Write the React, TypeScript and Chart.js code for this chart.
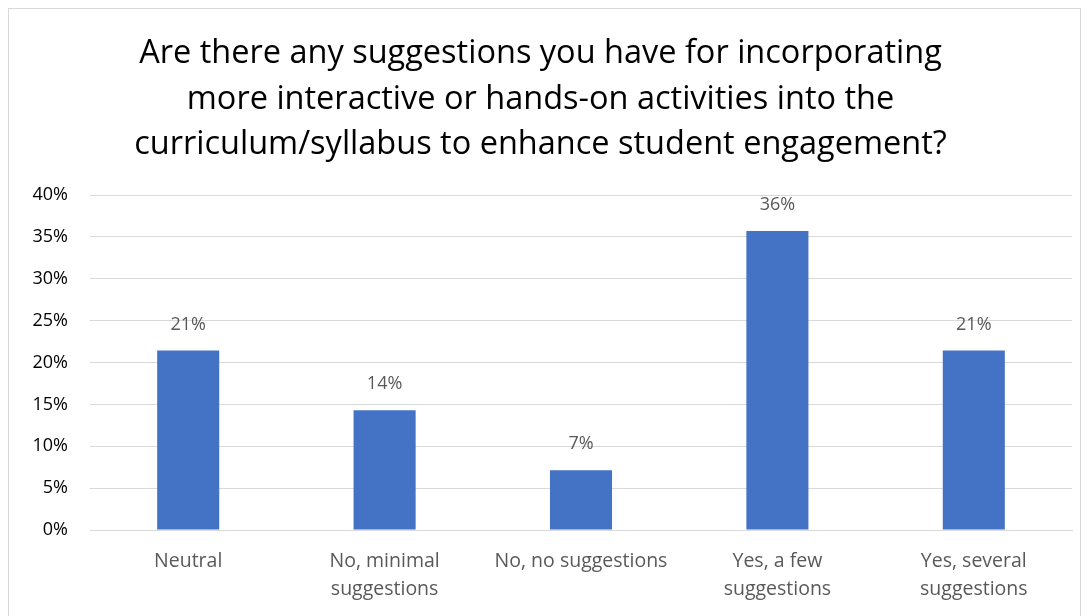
import React, { useEffect, useRef } from "react";
import { Chart, registerables } from "chart.js";

Chart.register(...registerables);

const titleLines = [
  "Are there any suggestions you have for incorporating",
  "more interactive or hands-on activities into the",
  "curriculum/syllabus to enhance student engagement?",
];
const categories: (string | string[])[] = [
  "Neutral",
  ["No, minimal", "suggestions"],
  "No, no suggestions",
  ["Yes, a few", "suggestions"],
  ["Yes, several", "suggestions"],
];
const values = [21.43, 14.29, 7.14, 35.71, 21.43];
const dataLabels = ["21%", "14%", "7%", "36%", "21%"];

const FONT = "'Open Sans', Lato, sans-serif";

const labelPlugin = {
  id: "barLabels",
  afterDatasetsDraw(chart: any) {
    const ctx = chart.ctx;
    const meta = chart.getDatasetMeta(0);
    ctx.save();
    ctx.font = `18px ${FONT}`;
    ctx.fillStyle = "#595959";
    ctx.textAlign = "center";
    ctx.textBaseline = "middle";
    meta.data.forEach((bar: any, i: number) => {
      ctx.fillText(dataLabels[i], bar.x, bar.y - 26);
    });
    ctx.restore();
  },
};

export default function App() {
  const ref = useRef<HTMLCanvasElement>(null);
  useEffect(() => {
    if (!ref.current) return;
    const chart = new Chart(ref.current, {
      type: "bar",
      data: {
        labels: categories,
        datasets: [
          {
            data: values,
            backgroundColor: "#4472C4",
            barPercentage: 0.316,
            categoryPercentage: 1,
          },
        ],
      },
      options: {
        animation: false,
        responsive: true,
        maintainAspectRatio: false,
        layout: { padding: { left: 0, right: 8, top: 0, bottom: 0 } },
        plugins: {
          legend: { display: false },
          tooltip: { enabled: false },
          title: {
            display: true,
            text: titleLines,
            color: "#000000",
            font: { family: FONT, size: 32.5, weight: "normal", lineHeight: 1.4 },
            padding: { top: 22, bottom: 27.5 },
          },
        },
        scales: {
          x: {
            grid: { display: false, drawTicks: false },
            border: { display: true, color: "#d9d9d9", width: 1 },
            ticks: {
              color: "#595959",
              font: { family: FONT, size: 19.5, lineHeight: 1.45 },
              padding: 17,
              maxRotation: 0,
              autoSkip: false,
            },
            afterFit: (scale: any) => {
              scale.height = 89;
            },
          },
          y: {
            min: 0,
            max: 40,
            ticks: {
              stepSize: 5,
              color: "#000000",
              font: { family: FONT, size: 18 },
              padding: 22,
              callback: (v: any) => `${v}%`,
            },
            grid: { color: "#d9d9d9", lineWidth: 1, drawTicks: false },
            border: { display: false },
            afterFit: (scale: any) => {
              scale.width = 81;
            },
          },
        },
      },
      plugins: [labelPlugin],
    });
    return () => chart.destroy();
  }, []);
  return (
    <div
      style={{
        width: 1071,
        height: 610,
        border: "1px solid #d9d9d9",
        background: "#fff",
      }}
    >
      <canvas ref={ref} />
    </div>
  );
}
